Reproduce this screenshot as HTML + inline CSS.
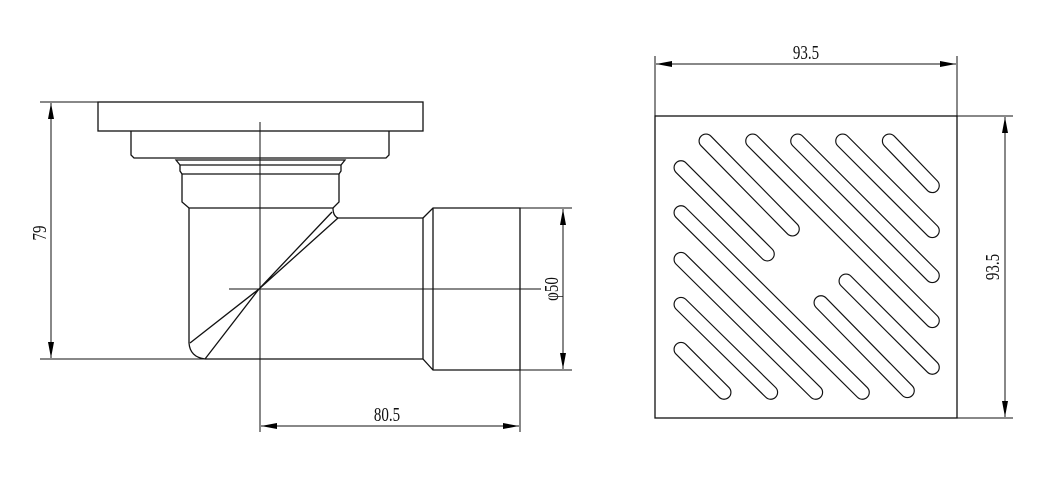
<!DOCTYPE html>
<html><head><meta charset="utf-8"><style>
html,body{margin:0;padding:0;background:#fff;}
svg{display:block;}
text{font-family:"Liberation Serif",serif;font-size:20px;fill:#111;}
</style></head><body>
<svg width="1055" height="501" viewBox="0 0 1055 501" xmlns="http://www.w3.org/2000/svg">
<defs>
<marker id="a" viewBox="0 0 16 6" refX="16" refY="3" markerWidth="16" markerHeight="6" markerUnits="userSpaceOnUse" orient="auto-start-reverse"><path d="M0,0 L16,3 L0,6 z" fill="#000"/></marker>
</defs>
<g fill="none" stroke="#111" stroke-width="1.3">
<rect x="98" y="102" width="325" height="29"/>
<path d="M131,131 V155 L134,158 H386 L389,155 V131"/>
<path d="M176,160 H345 L341,165 H180 Z"/>
<path d="M180,165 V171 L182,174 H339 L341,171 V165"/>
<path d="M182,174 V202 L189,208 H333 L339,202 V174"/>
<path d="M189,208 V343 Q190,357 205,359 H423"/>
<path d="M333,208 Q333,216 338,218 H423"/>
<path d="M423,218 L433,208 H520 V370 H433 L423,359 V218"/>
<path d="M433,208 V370"/>
<path d="M332,212 L259,289 L190,343 M338,218 L259,289 L205,359"/>
<g stroke-width="1">
<path d="M260,122 V432"/>
<path d="M229,289 H541"/>
<path d="M520,370 V432"/>
<path d="M520,208 H572 M520,370 H572"/>
<path d="M40,102 H98 M40,359 H205"/>
</g>
<path d="M261,426 H519" stroke-width="1" marker-start="url(#a)" marker-end="url(#a)"/>
<path d="M563,209 V369" stroke-width="1" marker-start="url(#a)" marker-end="url(#a)"/>
<path d="M51,103 V358" stroke-width="1" marker-start="url(#a)" marker-end="url(#a)"/>
<rect x="655" y="116" width="302" height="302"/>
<g stroke-width="1">
<path d="M655,56 V116 M957,56 V116 M957,116 H1013 M957,418 H1013"/>
</g>
<path d="M656,64 H956" stroke-width="1" marker-start="url(#a)" marker-end="url(#a)"/>
<path d="M1005,117 V417" stroke-width="1" marker-start="url(#a)" marker-end="url(#a)"/>
</g>
<g transform="translate(640,100) scale(0.33333)" stroke-linecap="round" fill="none">
<g stroke="#111" stroke-width="45">
<path d="M748,123 L877,257 M608,123 L877,392 M473,123 L877,527 M338,123 L877,662 M198,123 L457,387 M123,203 L382,462 M123,338 L667,877 M123,478 L527,877 M123,613 L392,877 M123,748 L252,877 M543,608 L802,872 M618,543 L877,802"/>
</g>
<g stroke="#fff" stroke-width="38">
<path d="M748,123 L877,257 M608,123 L877,392 M473,123 L877,527 M338,123 L877,662 M198,123 L457,387 M123,203 L382,462 M123,338 L667,877 M123,478 L527,877 M123,613 L392,877 M123,748 L252,877 M543,608 L802,872 M618,543 L877,802"/>
</g>
</g>
<text transform="translate(387,421) scale(0.75,1)" text-anchor="middle">80.5</text>
<text transform="translate(806,59) scale(0.75,1)" text-anchor="middle">93.5</text>
<text transform="translate(558,289) rotate(-90) scale(0.75,1)" text-anchor="middle">φ50</text>
<text transform="translate(46,233) rotate(-90) scale(0.75,1)" text-anchor="middle">79</text>
<text transform="translate(999,267) rotate(-90) scale(0.75,1)" text-anchor="middle">93.5</text>
</svg>
</body></html>
